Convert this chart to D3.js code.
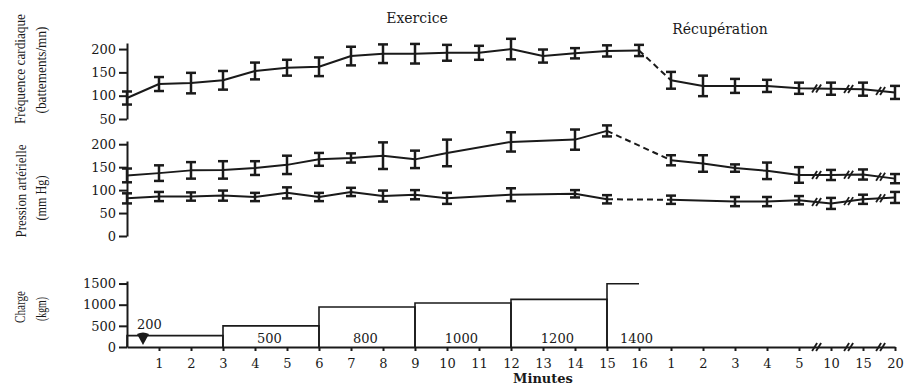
<!DOCTYPE html>
<html>
<head>
<meta charset="utf-8">
<script src="https://cdn.jsdelivr.net/npm/d3@7"></script>
<style>
  body { margin: 0; background: #fff; }
  svg { display: block; background: #fff; }
  .tick text, .lbl { font-family: "DejaVu Serif", serif; font-size: 13px; fill: #1a1a1a; }
  .ytitle { font-family: "Liberation Serif", serif; font-size: 14.5px; fill: #1a1a1a; }
  .domain, .tick line { stroke: #1a1a1a; stroke-width: 2; }
  .serie { fill: none; stroke: #1a1a1a; stroke-width: 2; stroke-linejoin: round; }
  .err { stroke: #1a1a1a; stroke-width: 2.5; }
</style>
</head>
<body>
<svg id="chart" width="904" height="386"></svg>
<script>
// x slots: exercise minutes 0..16, then recovery minutes
var exMinutes = d3.range(0, 17);
var recMinutes = [1, 2, 3, 4, 5, 10, 15, 20];
var tickLabels = exMinutes.slice(1).concat(recMinutes).map(String);
var breakAfter = [21, 22, 23];

// heart rate (battements/mn)
var hrMean = [95, 125, 127, 133, 153, 160, 162, 185, 190, 190, 192, 192, 200, 185, 191, 196, 197,
              133, 121, 121, 121, 116, 115, 114, 107];
var hrErr  = [14, 15, 22, 20, 18, 17, 20, 20, 20, 21, 17, 15, 22, 14, 11, 12, 12,
              18, 22, 15, 13, 12, 13, 14, 14];

// blood pressure (mm Hg), null = not measured
var sysMean = [132, 137, 143, 144, 148, 155, 167, 170, 175, 167, 181, null, 205, null, 210, 229, null,
               165, 158, 148, 142, 133, 133, 134, 125];
var sysErr  = [15, 17, 18, 19, 15, 20, 14, 10, 29, 19, 29, null, 21, null, 22, 12, null,
               11, 18, 8, 18, 17, 11, 11, 10];
var diaMean = [82, 86, 86, 88, 85, 94, 85, 96, 87, 90, 82, null, 90, null, 92, 80, null,
               79, null, 75, 75, 78, 71, 80, 84];
var diaErr  = [11, 10, 9, 11, 9, 12, 9, 9, 12, 10, 12, null, 14, null, 8, 9, null,
               9, null, 10, 10, 9, 12, 10, 12];

// load (kgm)
var loadStart  = [0, 3, 6, 9, 12, 15];
var loadEnd    = [3, 6, 9, 12, 15, 16];
var loadDrawn  = [270, 500, 945, 1040, 1125, 1495];
var loadLabels = ["200", "500", "800", "1000", "1200", "1400"];

var svg = d3.select("#chart");
var lastEx = exMinutes.length - 1;

var x = d3.scaleLinear().domain([0, 24]).range([127, 895]);
var yHR = d3.scaleLinear().domain([50, 213]).range([119, 43]);
var yBP = d3.scaleLinear().domain([0, 207]).range([236, 141]);
var yLoad = d3.scaleLinear().domain([0, 1560]).range([347, 281]);

function leftAxis(scale, ticks) {
  svg.append("g")
    .attr("transform", "translate(" + x(0) + ",0)")
    .call(d3.axisLeft(scale).tickValues(ticks).tickFormat(d3.format("d"))
      .tickSize(8).tickPadding(3).tickSizeOuter(0));
}
leftAxis(yHR, [50, 100, 150, 200]);
leftAxis(yBP, [0, 50, 100, 150, 200]);
leftAxis(yLoad, [0, 500, 1000, 1500]);

// bottom axis
svg.append("g")
  .attr("transform", "translate(0," + yLoad(0) + ")")
  .call(d3.axisBottom(x).tickValues(d3.range(1, 25))
    .tickFormat(function(i) { return tickLabels[i - 1]; })
    .tickSize(4).tickPadding(8).tickSizeOuter(0));

function breakMark(cx, cy) {
  [-2, 2].forEach(function(o) {
    svg.append("line")
      .attr("x1", cx + o - 2.5).attr("y1", cy + 4)
      .attr("x2", cx + o + 2.5).attr("y2", cy - 4)
      .attr("stroke", "#1a1a1a").attr("stroke-width", 1.8);
  });
}
breakAfter.forEach(function(b) { breakMark(x(b + 0.55), yLoad(0)); });

function drawSeries(y, mean, err) {
  var pts = mean.map(function(v, i) { return { i: i, v: v, e: err[i] }; })
    .filter(function(d) { return d.v != null; });
  var ex = pts.filter(function(d) { return d.i <= lastEx; });
  var rec = pts.filter(function(d) { return d.i > lastEx; });
  var line = d3.line().x(function(d) { return x(d.i); }).y(function(d) { return y(d.v); });

  svg.append("path").datum(ex).attr("class", "serie").attr("d", line);
  svg.append("path").datum([ex[ex.length - 1], rec[0]]).attr("class", "serie")
    .attr("stroke-dasharray", "6,4").attr("d", line);
  svg.append("path").datum(rec).attr("class", "serie").attr("d", line);

  var eb = svg.append("g").selectAll("g").data(pts).join("g");
  eb.append("line").attr("class", "err")
    .attr("x1", function(d) { return x(d.i); }).attr("x2", function(d) { return x(d.i); })
    .attr("y1", function(d) { return y(d.v - d.e); }).attr("y2", function(d) { return y(d.v + d.e); });
  [-1, 1].forEach(function(s) {
    eb.append("line").attr("class", "err")
      .attr("x1", function(d) { return x(d.i) - 5; }).attr("x2", function(d) { return x(d.i) + 5; })
      .attr("y1", function(d) { return y(d.v + s * d.e); }).attr("y2", function(d) { return y(d.v + s * d.e); });
  });

  breakAfter.forEach(function(b) {
    var a = mean[b], c = mean[b + 1];
    breakMark(x(b + 0.55), y(a + (c - a) * 0.55));
  });
}
drawSeries(yHR, hrMean, hrErr);
drawSeries(yBP, sysMean, sysErr);
drawSeries(yBP, diaMean, diaErr);

// load steps
loadDrawn.forEach(function(h, k) {
  var p = "M" + x(loadStart[k]) + "," + yLoad(0) + "V" + yLoad(h) + "H" + x(loadEnd[k]);
  if (k < loadDrawn.length - 1) p += "V" + yLoad(0);
  svg.append("path").attr("d", p).attr("fill", "none")
    .attr("stroke", "#1a1a1a").attr("stroke-width", 1.6);
});
loadLabels.forEach(function(t, k) {
  var mid = (loadStart[k] + loadEnd[k]) / 2;
  var lbl = svg.append("text").attr("class", "lbl").text(t);
  if (k === 0) {
    lbl.attr("x", x(mid - 0.8)).attr("y", yLoad(loadDrawn[k]) - 7).attr("text-anchor", "middle");
  } else if (k === loadLabels.length - 1) {
    lbl.attr("x", x(loadStart[k]) + 13).attr("y", yLoad(0) - 4).attr("text-anchor", "start");
  } else {
    lbl.attr("x", x(mid - 0.05)).attr("y", yLoad(0) - 4).attr("text-anchor", "middle");
  }
});
// start marker
var ax = x(0.5);
svg.append("path")
  .attr("d", "M" + (ax - 6) + ",334Q" + ax + ",331 " + (ax + 6) + ",334L" + ax + ",345Z")
  .attr("fill", "#1a1a1a");

// phase labels
svg.append("text").attr("class", "lbl").attr("x", 417).attr("y", 23)
  .attr("text-anchor", "middle").style("font-size", "14px").text("Exercice");
svg.append("text").attr("class", "lbl").attr("x", 720).attr("y", 34)
  .attr("text-anchor", "middle").style("font-size", "14px").text("Récupération");
svg.append("text").attr("class", "lbl").attr("x", x(13)).attr("y", 383)
  .attr("text-anchor", "middle").style("font-weight", "bold").text("Minutes");

// y titles
var titles = [
  ["Fréquence cardiaque", 25, 69, 110],
  ["(battements/mn)", 46, 70, 87],
  ["Pression artérielle", 26, 191, 93],
  ["(mm Hg)", 46, 198, 45],
  ["Charge", 25, 307, 32],
  ["(kgm)", 46, 309, 24]
];
titles.forEach(function(t) {
  svg.append("text").attr("class", "ytitle")
    .attr("transform", "translate(" + t[1] + "," + t[2] + ") rotate(-90)")
    .attr("text-anchor", "middle")
    .attr("textLength", t[3]).attr("lengthAdjust", "spacingAndGlyphs")
    .text(t[0]);
});
</script>
</body>
</html>
